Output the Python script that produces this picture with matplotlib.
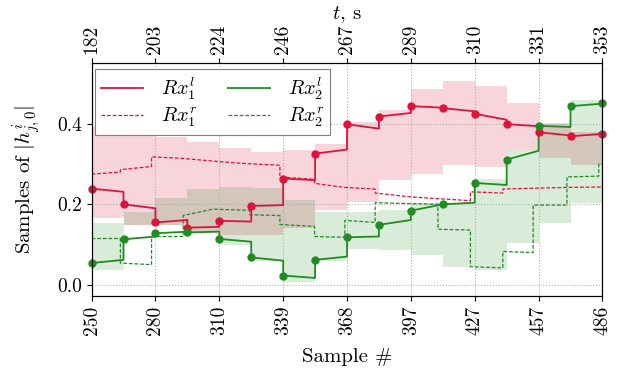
import numpy as np
import matplotlib.pyplot as plt

plt.rcParams['font.family'] = 'serif'
plt.rcParams['font.serif'] = ['cmr10']
plt.rcParams['mathtext.fontset'] = 'cm'
plt.rcParams['axes.formatter.use_mathtext'] = True

# tick labels
sample_ticks = [250, 280, 310, 339, 368, 397, 427, 457, 486]
time_ticks = [182, 203, 224, 246, 267, 289, 310, 331, 353]

# 16 blocks of samples, value at start and end of each block
rx1l_start = [0.239, 0.200, 0.155, 0.142, 0.159, 0.196, 0.264, 0.326,
              0.399, 0.418, 0.444, 0.439, 0.425, 0.399, 0.379, 0.369]
rx1l_end = [0.231, 0.190, 0.161, 0.144, 0.157, 0.198, 0.260, 0.336,
            0.388, 0.427, 0.440, 0.431, 0.410, 0.394, 0.371, 0.375]
rx1l_last = 0.374

rx2l_start = [0.054, 0.113, 0.128, 0.130, 0.114, 0.068, 0.023, 0.062,
              0.118, 0.149, 0.184, 0.200, 0.253, 0.311, 0.395, 0.444]
rx2l_end = [0.062, 0.120, 0.132, 0.132, 0.107, 0.060, 0.017, 0.070,
            0.120, 0.161, 0.200, 0.204, 0.248, 0.333, 0.392, 0.450]
rx2l_last = 0.451

# shaded ranges per block
red_lo = [0.165, 0.149, 0.149, 0.132, 0.124, 0.124, 0.140, 0.186,
          0.206, 0.260, 0.276, 0.297, 0.293, 0.334, 0.314, 0.297]
red_hi = [0.392, 0.385, 0.368, 0.355, 0.340, 0.330, 0.334, 0.350,
          0.404, 0.435, 0.487, 0.507, 0.495, 0.452, 0.400, 0.380]
green_lo = [0.037, 0.149, 0.149, 0.132, 0.100, 0.058, 0.008, 0.058,
            0.090, 0.087, 0.075, 0.045, 0.037, 0.103, 0.153, 0.202]
green_hi = [0.153, 0.181, 0.215, 0.239, 0.243, 0.240, 0.210, 0.182,
            0.182, 0.186, 0.202, 0.202, 0.262, 0.334, 0.402, 0.458]

# dashed curves (sample, value)
rx1r_x = [250, 263.3, 263.3, 277.7, 277.7, 292, 309, 322, 337, 337, 353, 353,
          367, 381, 381, 396, 410, 425, 425, 440, 440, 470, 486]
rx1r_y = [0.275, 0.280, 0.286, 0.294, 0.318, 0.314, 0.306, 0.301, 0.297, 0.268,
          0.262, 0.252, 0.242, 0.238, 0.228, 0.219, 0.214, 0.209, 0.231, 0.228,
          0.238, 0.242, 0.243]
rx2r_x = [250, 263.3, 263.3, 277.7, 277.7, 292.3, 292.3, 306, 323, 323, 337, 337,
          353, 353, 367, 367, 381, 381, 410, 410, 425, 425, 440, 440, 454, 454,
          469.6, 469.6, 484.3, 484.3, 486]
rx2r_y = [0.115, 0.115, 0.054, 0.050, 0.120, 0.120, 0.172, 0.188, 0.185, 0.174,
          0.172, 0.150, 0.145, 0.120, 0.118, 0.160, 0.155, 0.204, 0.200, 0.138,
          0.136, 0.045, 0.042, 0.083, 0.080, 0.198, 0.198, 0.268, 0.270, 0.300,
          0.300]

red = '#dc143c'
green = '#228b22'

bounds = np.linspace(sample_ticks[0], sample_ticks[-1], len(rx1l_start) + 1)
seg_x = np.repeat(bounds, 2)[1:-1]


def seg_y(starts, ends):
    return np.column_stack([starts, ends]).ravel()


fig = plt.figure(figsize=(6.23, 3.71), dpi=100)
ax = fig.add_axes([0.147, 0.202, 0.82, 0.627])

ax.fill_between(bounds, np.append(red_lo, red_lo[-1]), np.append(red_hi, red_hi[-1]),
                step='post', color=red, alpha=0.18, lw=0, zorder=1)
ax.fill_between(bounds, np.append(green_lo, green_lo[-1]), np.append(green_hi, green_hi[-1]),
                step='post', color=green, alpha=0.17, lw=0, zorder=1)

ax.plot(seg_x, seg_y(rx1l_start, rx1l_end), color=red, lw=1.3, zorder=4,
        label=r'$Rx_1^l$')
ax.plot(rx1r_x, rx1r_y, color=red, lw=0.9, ls='--', dashes=(3, 1.5), zorder=3,
        label=r'$Rx_1^r$')
ax.plot(seg_x, seg_y(rx2l_start, rx2l_end), color=green, lw=1.3, zorder=4,
        label=r'$Rx_2^l$')
ax.plot(rx2r_x, rx2r_y, color=green, lw=0.9, ls='--', dashes=(3, 1.5), zorder=3,
        label=r'$Rx_2^r$')

ax.plot(bounds, rx1l_start + [rx1l_last], 'o', color=red, ms=5, zorder=5, clip_on=False)
ax.plot(bounds, rx2l_start + [rx2l_last], 'o', color=green, ms=5, zorder=5, clip_on=False)

ax.set_xlim(sample_ticks[0], sample_ticks[-1])
ax.set_ylim(-0.028, 0.55)
ax.set_xticks(bounds[::2])
ax.set_xticklabels([str(v) for v in sample_ticks], rotation=90, fontsize=14)
ax.set_yticks([0.0, 0.2, 0.4])
ax.set_yticklabels(['0.0', '0.2', '0.4'], fontsize=14)
ax.grid(True, ls=':', color='#b0b0b0', lw=0.8)
ax.set_xlabel('Sample #', fontsize=15, labelpad=9)
ax.set_ylabel(r'Samples of $|h^i_{j,0}|$', fontsize=15, labelpad=10)

top = ax.twiny()
top.set_xlim(ax.get_xlim())
top.set_xticks(bounds[::2])
top.set_xticklabels([str(v) for v in time_ticks], rotation=90, fontsize=14)
top.set_xlabel(r'$t$, s', fontsize=15, labelpad=4)

leg = ax.legend(ncol=2, loc='upper left', bbox_to_anchor=(0.006, 0.975),
                borderaxespad=0, fontsize=14.5, fancybox=False,
                edgecolor='#808080', framealpha=1, handlelength=2.1,
                labelspacing=0.2, columnspacing=1.5,
                borderpad=0.3, handletextpad=0.9)
leg.get_frame().set_linewidth(0.8)
leg.set_zorder(10)

fig.savefig('out.png', dpi=100)
